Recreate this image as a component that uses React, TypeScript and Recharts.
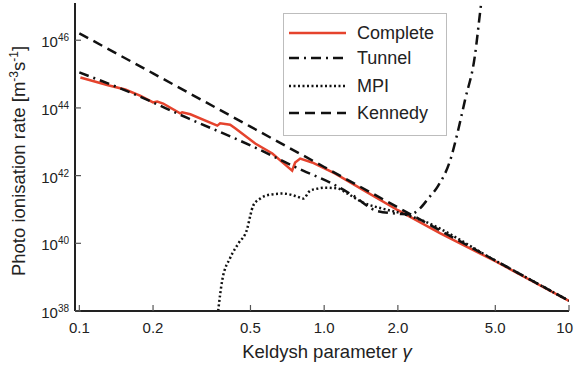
import { LineChart, Line, XAxis, YAxis } from "recharts";

// gamma values and rates
const completeGamma = [0.101, 0.131, 0.154, 0.177, 0.2, 0.208, 0.22, 0.258, 0.263, 0.284, 0.366, 0.376, 0.413, 0.433, 0.523, 0.614, 0.74, 0.761, 0.798, 0.893, 1.11, 1.5, 2.0, 2.97, 5.0, 10];
const completeRate = [7.9e44, 4.7e44, 3.5e44, 2.3e44, 1.45e44, 1.55e44, 1.35e44, 6.9e43, 7.4e43, 6.5e43, 3.0e43, 3.5e43, 3.2e43, 2.5e43, 8.9e42, 4.5e42, 1.4e42, 2.45e42, 3.2e42, 2.45e42, 1.15e42, 3.2e41, 9.5e40, 2.0e40, 2.95e39, 2.0e38];

const tunnelGamma = [0.1, 0.154, 0.279, 0.5, 0.82, 1.06, 1.31, 1.64, 2.04, 2.24, 2.47, 2.66, 2.92, 3.27, 3.52, 3.76, 4.13, 4.33, 4.45];
const tunnelRate = [1.12e45, 3.3e44, 4.9e43, 7.8e42, 1.4e42, 6.2e41, 2.6e41, 9.1e40, 7.4e40, 7.1e40, 1.1e41, 2.1e41, 5e41, 2.8e42, 2.1e43, 1.7e44, 3.6e45, 6.3e46, 3.2e47];

const mpiGamma = [0.369, 0.383, 0.413, 0.446, 0.485, 0.499, 0.513, 0.548, 0.602, 0.68, 0.776, 0.821, 0.877, 0.936, 1.0, 1.13, 1.24, 1.44, 1.74, 2.04, 2.5, 5.0, 10];
const mpiRate = [1e38, 7.8e38, 3.7e39, 9.8e39, 2.7e40, 6.5e40, 1.3e41, 2.1e41, 2.75e41, 2.95e41, 2.4e41, 2.1e41, 3.6e41, 4.1e41, 4.4e41, 4.2e41, 3e41, 1.6e41, 1.05e41, 7.9e40, 4.8e40, 3.1e39, 2e38];

const kennedyGamma = [0.1, 0.2, 0.5, 1.0, 2.0, 5.0, 10];
const kennedyRate = [1.6e46, 1.05e45, 2.8e43, 1.8e42, 1.15e41, 3.1e39, 2e38];

const xTicks = [0.1, 0.2, 0.5, 1, 2, 5, 10];
const xTickLabels = ["0.1", "0.2", "0.5", "1.0", "2.0", "5.0", "10"];
const yTicks = [1e38, 1e40, 1e42, 1e44, 1e46];

const toRows = (g: number[], r: number[]) => g.map((x, i) => ({ x, y: r[i] }));
const completeData = toRows(completeGamma, completeRate);
const tunnelData = toRows(tunnelGamma, tunnelRate);
const mpiData = toRows(mpiGamma, mpiRate);
const kennedyData = toRows(kennedyGamma, kennedyRate);

const RED = "#e5432d";
const FONT = "'Liberation Sans', Arial, sans-serif";
const TICK_COLOR = "#555";

const series = [
  { name: "Complete", color: RED, dash: undefined as string | undefined },
  { name: "Tunnel", color: "#111", dash: "10 5 2 5" },
  { name: "MPI", color: "#111", dash: "2 2.5" },
  { name: "Kennedy", color: "#111", dash: "10 6" },
];

function BottomTick({ x, y, payload }: any) {
  const i = xTicks.indexOf(payload.value);
  const last = i === xTicks.length - 1;
  return (
    <g>
      <line x1={x} y1={y} x2={x} y2={y - 6} stroke={TICK_COLOR} strokeWidth={1.2} />
      <text
        x={last ? x + 4 : x}
        y={y + 22}
        textAnchor={last ? "end" : "middle"}
        fontSize={15}
        fontFamily={FONT}
        fill="#222"
      >
        {i >= 0 ? xTickLabels[i] : payload.value}
      </text>
    </g>
  );
}

function LeftTick({ x, y, payload }: any) {
  const exp = Math.round(Math.log10(payload.value));
  return (
    <g>
      <line x1={x} y1={y} x2={x + 6} y2={y} stroke={TICK_COLOR} strokeWidth={1.2} />
      <text x={x - 6} y={y + 7} textAnchor="end" fontSize={15} fontFamily={FONT} fill="#222">
        <tspan>10</tspan>
        <tspan dy={-6} fontSize={10}>{exp}</tspan>
      </text>
    </g>
  );
}

function TopTick({ x, y }: any) {
  return <line x1={x} y1={y} x2={x} y2={y + 6} stroke={TICK_COLOR} strokeWidth={1.2} />;
}

function RightTick({ x, y }: any) {
  return <line x1={x} y1={y} x2={x - 6} y2={y} stroke={TICK_COLOR} strokeWidth={1.2} />;
}

function LegendBox() {
  const rows = [19, 44, 72, 99];
  return (
    <div
      style={{
        position: "absolute",
        left: 283,
        top: 13,
        width: 164,
        height: 123,
        border: "1px solid #bdbdbd",
        background: "#fff",
        boxSizing: "border-box",
      }}
    >
      <svg width={162} height={121} style={{ display: "block" }}>
        {series.map((s, i) => (
          <g key={s.name}>
            <line
              x1={5}
              x2={62}
              y1={rows[i]}
              y2={rows[i]}
              stroke={s.color}
              strokeWidth={2.5}
              strokeDasharray={s.dash}
            />
            <text x={73} y={rows[i] + 6} fontSize={18} fontFamily={FONT} fill="#222">
              {s.name}
            </text>
          </g>
        ))}
      </svg>
    </div>
  );
}

export default function App() {
  return (
    <div style={{ position: "absolute", left: 0, top: 0, width: 574, height: 367, background: "#fff" }}>
      <LineChart width={574} height={367} margin={{ top: 3, right: 5, bottom: 0, left: 0 }}>
        <XAxis
          dataKey="x"
          type="number"
          scale="log"
          domain={[0.096, 10]}
          allowDataOverflow
          ticks={xTicks}
          tick={<BottomTick />}
          tickLine={false}
          tickSize={0}
          tickMargin={0}
          interval={0}
          height={56}
          axisLine={{ stroke: "#222", strokeWidth: 2 }}
          label={{
            content: () => (
              <text x={327} y={358} textAnchor="middle" fontSize={18.5} fontFamily={FONT} fill="#222">
                Keldysh parameter <tspan fontStyle="italic">γ</tspan>
              </text>
            ),
          }}
        />
        <XAxis
          xAxisId="top"
          dataKey="x"
          orientation="top"
          type="number"
          scale="log"
          domain={[0.096, 10]}
          allowDataOverflow
          ticks={xTicks}
          tick={<TopTick />}
          tickLine={false}
          tickSize={0}
          tickMargin={0}
          interval={0}
          height={0}
          axisLine={{ stroke: "#222", strokeWidth: 2 }}
        />
        <YAxis
          dataKey="y"
          type="number"
          scale="log"
          domain={[1e38, 1.26e47]}
          allowDataOverflow
          ticks={yTicks}
          tick={<LeftTick />}
          tickLine={false}
          tickSize={0}
          tickMargin={0}
          interval={0}
          width={75}
          axisLine={{ stroke: "#222", strokeWidth: 2 }}
          label={{
            content: () => (
              <text
                x={25}
                y={161}
                transform="rotate(-90 25 161)"
                textAnchor="middle"
                fontSize={18.5}
                fontFamily={FONT}
                fill="#222"
              >
                Photo ionisation rate [m
                <tspan dy={-7} fontSize={12}>-3</tspan>
                <tspan dy={7}>s</tspan>
                <tspan dy={-7} fontSize={12}>-1</tspan>
                <tspan dy={7}>]</tspan>
              </text>
            ),
          }}
        />
        <YAxis
          yAxisId="right"
          orientation="right"
          type="number"
          scale="log"
          domain={[1e38, 1.26e47]}
          allowDataOverflow
          ticks={yTicks}
          tick={<RightTick />}
          tickLine={false}
          tickSize={0}
          tickMargin={0}
          interval={0}
          width={0}
          axisLine={{ stroke: "#222", strokeWidth: 2 }}
        />
        <Line
          name="Complete"
          data={completeData}
          dataKey="y"
          type="linear"
          stroke={RED}
          strokeWidth={2.5}
          dot={false}
          isAnimationActive={false}
        />
        <Line
          name="Tunnel"
          data={tunnelData}
          dataKey="y"
          type="monotone"
          stroke="#111"
          strokeWidth={2.5}
          strokeDasharray="10 5 2 5"
          dot={false}
          isAnimationActive={false}
        />
        <Line
          name="MPI"
          data={mpiData}
          dataKey="y"
          type="monotone"
          stroke="#111"
          strokeWidth={2.5}
          strokeDasharray="2 2.5"
          dot={false}
          isAnimationActive={false}
        />
        <Line
          name="Kennedy"
          data={kennedyData}
          dataKey="y"
          type="linear"
          stroke="#111"
          strokeWidth={2.5}
          strokeDasharray="10 6"
          dot={false}
          isAnimationActive={false}
        />
      </LineChart>
      <LegendBox />
    </div>
  );
}
